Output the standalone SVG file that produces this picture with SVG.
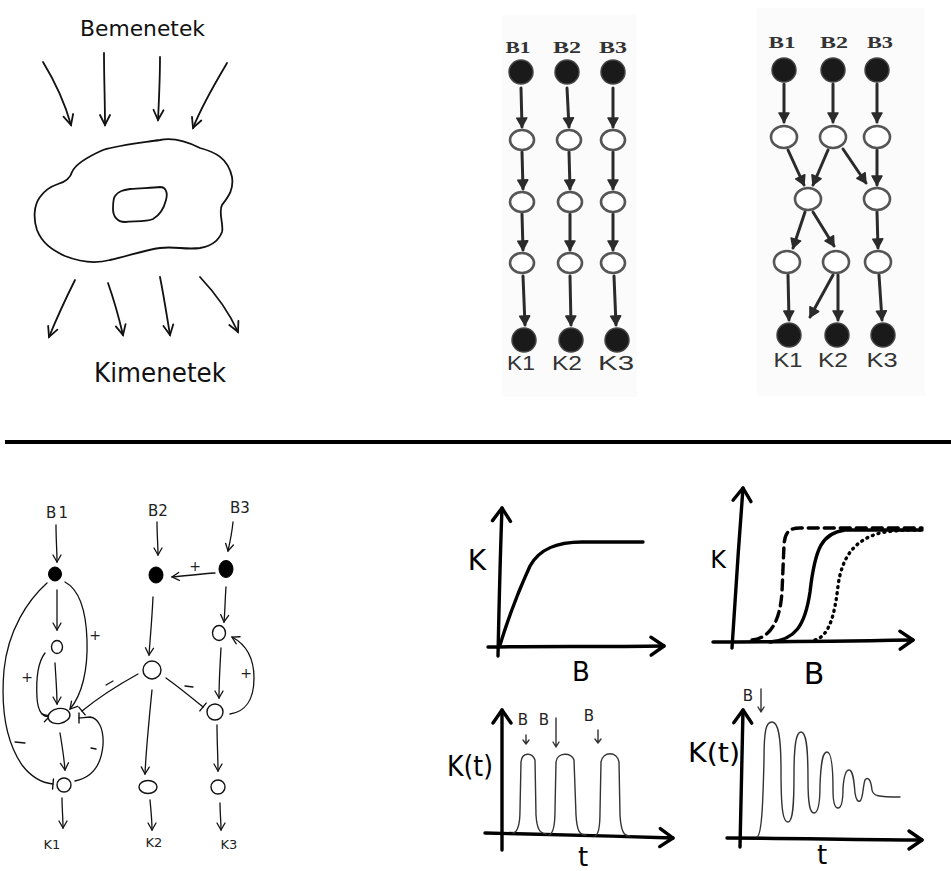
<svg xmlns="http://www.w3.org/2000/svg" width="951" height="871" viewBox="0 0 951 871">
  <defs>
    <style>
      .ink { fill: none; stroke: #111; stroke-linecap: round; stroke-linejoin: round; }
      .sketch { stroke-width: 1.8; }
      .thin { stroke-width: 1.3; }
      .grid-edge { fill: none; stroke: #2b2b2b; stroke-width: 3; stroke-linecap: round; }
      .grid-open { fill: #fff; stroke: #555; stroke-width: 2.6; }
      .grid-full { fill: #1a1a1a; stroke: #444; stroke-width: 1.5; }
      .axis { fill: none; stroke: #000; stroke-width: 3.4; stroke-linecap: round; stroke-linejoin: round; }
      .trace { fill: none; stroke: #333; stroke-width: 1.4; stroke-linecap: round; stroke-linejoin: round; }
      .net-open { fill: #fff; stroke: #111; stroke-width: 1.4; }
      .net-full { fill: #000; stroke: #000; stroke-width: 1; }
      .hand { font-family: "DejaVu Sans", "Liberation Sans", sans-serif; fill: #111; }
      .note { font-family: "DejaVu Sans", "Liberation Sans", sans-serif; fill: #222; font-weight: normal; }
      .gridlbl { font-family: "Liberation Serif", serif; font-weight: bold; fill: #333; }
      .gridk { font-family: "Liberation Sans", sans-serif; fill: #333; }
      .big { font-family: "DejaVu Sans", "Liberation Sans", sans-serif; fill: #000; }
    </style>
    <marker id="arrow-hand" markerUnits="userSpaceOnUse" markerWidth="20" markerHeight="20" orient="auto" overflow="visible">
      <path d="M-10,-5 L0,0 L-10,5" fill="none" stroke="#111" stroke-width="1.8" stroke-linecap="round"/>
    </marker>
    <marker id="arrow-small" markerUnits="userSpaceOnUse" markerWidth="20" markerHeight="20" orient="auto" overflow="visible">
      <path d="M-7,-4 L0,0 L-7,4" fill="none" stroke="#111" stroke-width="1.3" stroke-linecap="round"/>
    </marker>
    <marker id="tbar" markerUnits="userSpaceOnUse" markerWidth="20" markerHeight="20" orient="auto" overflow="visible">
      <path d="M0,-5 L0,5" fill="none" stroke="#111" stroke-width="1.4" stroke-linecap="round"/>
    </marker>
    <marker id="arrow-grid" markerUnits="userSpaceOnUse" markerWidth="20" markerHeight="20" orient="auto" overflow="visible">
      <path d="M-9,-5 L0,0 L-9,5 Z" fill="#2b2b2b" stroke="#2b2b2b" stroke-width="1.5" stroke-linejoin="round"/>
    </marker>
    <marker id="arrow-axis" markerUnits="userSpaceOnUse" markerWidth="30" markerHeight="30" orient="auto" overflow="visible">
      <path d="M-13,-9 L0,0 L-13,9" fill="none" stroke="#000" stroke-width="3.4" stroke-linecap="round" stroke-linejoin="round"/>
    </marker>
  </defs>

  <rect width="951" height="871" fill="#fff"/>

  <!-- ===== Top left: cell with inputs and outputs ===== -->
  <g id="cell-sketch">
    <text class="hand" x="80" y="36" font-size="22" textLength="125" lengthAdjust="spacingAndGlyphs">Bemenetek</text>
    <path class="ink sketch" d="M72,172 C75,165 85,158 103,150 C120,145 140,143 160,140 C175,137 190,143 200,148 C215,152 228,158 232,177 C234,190 228,197 222,205 C218,212 224,225 222,232 C219,240 212,246 200,248 C185,250 175,246 160,248 C145,250 128,256 110,260 C95,264 80,262 65,256 C52,250 42,243 37,230 C33,218 34,205 40,197 C45,190 52,186 58,184 C65,182 70,179 72,172 Z"/>
    <path class="ink sketch" d="M115,196 C118,191 124,190 130,189 C140,188 152,188 160,187 C166,187 168,193 166,200 C164,208 160,215 153,219 C146,222 135,221 125,222 C117,222 113,216 113,209 C113,203 113,199 115,196 Z"/>
    <text class="hand" x="94" y="382" font-size="26" textLength="132" lengthAdjust="spacingAndGlyphs">Kimenetek</text>
  </g>
  <g id="cell-arrows">
    <path class="ink sketch" d="M43,62 C54,80 64,100 71,125" marker-end="url(#arrow-hand)"/>
    <path class="ink sketch" d="M104,53 C104,80 105,100 105,125" marker-end="url(#arrow-hand)"/>
    <path class="ink sketch" d="M160,57 C160,80 159,100 158,120" marker-end="url(#arrow-hand)"/>
    <path class="ink sketch" d="M227,63 C214,85 202,105 193,128" marker-end="url(#arrow-hand)"/>
    <path class="ink sketch" d="M75,280 C66,298 58,315 49,337" marker-end="url(#arrow-hand)"/>
    <path class="ink sketch" d="M108,283 C114,300 119,318 123,335" marker-end="url(#arrow-hand)"/>
    <path class="ink sketch" d="M160,277 C164,297 167,317 170,335" marker-end="url(#arrow-hand)"/>
    <path class="ink sketch" d="M200,277 C215,293 228,310 238,332" marker-end="url(#arrow-hand)"/>
  </g>

  <!-- ===== Top middle: three independent chains ===== -->
  <rect x="502" y="15" width="135" height="382" fill="#fbfbfb"/>
  <g id="chains-edges">
    <line class="grid-edge" x1="521" y1="88" x2="522" y2="127" marker-end="url(#arrow-grid)"/>
    <line class="grid-edge" x1="522" y1="152" x2="523" y2="189" marker-end="url(#arrow-grid)"/>
    <line class="grid-edge" x1="522" y1="214" x2="523" y2="250" marker-end="url(#arrow-grid)"/>
    <line class="grid-edge" x1="523" y1="276" x2="525" y2="325" marker-end="url(#arrow-grid)"/>
    <line class="grid-edge" x1="567" y1="88" x2="569" y2="127" marker-end="url(#arrow-grid)"/>
    <line class="grid-edge" x1="569" y1="152" x2="570" y2="189" marker-end="url(#arrow-grid)"/>
    <line class="grid-edge" x1="570" y1="214" x2="570" y2="250" marker-end="url(#arrow-grid)"/>
    <line class="grid-edge" x1="570" y1="276" x2="571" y2="325" marker-end="url(#arrow-grid)"/>
    <line class="grid-edge" x1="613" y1="88" x2="613" y2="127" marker-end="url(#arrow-grid)"/>
    <line class="grid-edge" x1="613" y1="152" x2="613" y2="189" marker-end="url(#arrow-grid)"/>
    <line class="grid-edge" x1="613" y1="214" x2="613" y2="250" marker-end="url(#arrow-grid)"/>
    <line class="grid-edge" x1="614" y1="276" x2="616" y2="325" marker-end="url(#arrow-grid)"/>
  </g>
  <g id="chain-1">
    <text class="gridlbl" x="518" y="53" font-size="16" text-anchor="middle" textLength="25" lengthAdjust="spacingAndGlyphs">B1</text>
    <circle class="grid-full" cx="521" cy="72" r="12"/>
    <ellipse class="grid-open" cx="522" cy="140" rx="12" ry="10"/>
    <ellipse class="grid-open" cx="522" cy="202" rx="12" ry="10"/>
    <ellipse class="grid-open" cx="522" cy="263" rx="12" ry="10"/>
    <circle class="grid-full" cx="524" cy="340" r="12"/>
    <text class="gridk" x="521" y="370" font-size="20" text-anchor="middle" textLength="28" lengthAdjust="spacingAndGlyphs">K1</text>
  </g>
  <g id="chain-2">
    <text class="gridlbl" x="567" y="53" font-size="16" text-anchor="middle" textLength="28" lengthAdjust="spacingAndGlyphs">B2</text>
    <circle class="grid-full" cx="567" cy="72" r="12"/>
    <ellipse class="grid-open" cx="569" cy="140" rx="12" ry="10"/>
    <ellipse class="grid-open" cx="570" cy="202" rx="12" ry="10"/>
    <ellipse class="grid-open" cx="570" cy="263" rx="12" ry="10"/>
    <circle class="grid-full" cx="571" cy="340" r="12"/>
    <text class="gridk" x="567" y="370" font-size="20" text-anchor="middle" textLength="30" lengthAdjust="spacingAndGlyphs">K2</text>
  </g>
  <g id="chain-3">
    <text class="gridlbl" x="613" y="53" font-size="16" text-anchor="middle" textLength="28" lengthAdjust="spacingAndGlyphs">B3</text>
    <circle class="grid-full" cx="613" cy="72" r="12"/>
    <ellipse class="grid-open" cx="613" cy="140" rx="12" ry="10"/>
    <ellipse class="grid-open" cx="613" cy="202" rx="12" ry="10"/>
    <ellipse class="grid-open" cx="613" cy="263" rx="12" ry="10"/>
    <circle class="grid-full" cx="617" cy="340" r="12"/>
    <text class="gridk" x="616" y="370" font-size="20" text-anchor="middle" textLength="36" lengthAdjust="spacingAndGlyphs">K3</text>
  </g>

  <!-- ===== Top right: crossing chains ===== -->
  <rect x="757" y="8" width="168" height="388" fill="#fbfbfb"/>
  <g id="cross-edges">
    <line class="grid-edge" x1="784" y1="84" x2="784" y2="122" marker-end="url(#arrow-grid)"/>
    <line class="grid-edge" x1="833" y1="84" x2="833" y2="122" marker-end="url(#arrow-grid)"/>
    <line class="grid-edge" x1="877" y1="84" x2="877" y2="122" marker-end="url(#arrow-grid)"/>
    <line class="grid-edge" x1="788" y1="150" x2="804" y2="185" marker-end="url(#arrow-grid)"/>
    <line class="grid-edge" x1="828" y1="150" x2="813" y2="185" marker-end="url(#arrow-grid)"/>
    <line class="grid-edge" x1="843" y1="149" x2="866" y2="183" marker-end="url(#arrow-grid)"/>
    <line class="grid-edge" x1="877" y1="150" x2="877" y2="185" marker-end="url(#arrow-grid)"/>
    <line class="grid-edge" x1="805" y1="212" x2="793" y2="248" marker-end="url(#arrow-grid)"/>
    <line class="grid-edge" x1="813" y1="212" x2="834" y2="246" marker-end="url(#arrow-grid)"/>
    <line class="grid-edge" x1="877" y1="212" x2="878" y2="248" marker-end="url(#arrow-grid)"/>
    <line class="grid-edge" x1="788" y1="275" x2="789" y2="320" marker-end="url(#arrow-grid)"/>
    <line class="grid-edge" x1="833" y1="275" x2="810" y2="317" marker-end="url(#arrow-grid)"/>
    <line class="grid-edge" x1="838" y1="275" x2="838" y2="320" marker-end="url(#arrow-grid)"/>
    <line class="grid-edge" x1="879" y1="275" x2="882" y2="320" marker-end="url(#arrow-grid)"/>
  </g>
  <g id="cross-col-1">
    <text class="gridlbl" x="782" y="48" font-size="16" text-anchor="middle" textLength="27" lengthAdjust="spacingAndGlyphs">B1</text>
    <circle class="grid-full" cx="784" cy="70" r="12"/>
    <ellipse class="grid-open" cx="784" cy="137" rx="13" ry="11"/>
    <ellipse class="grid-open" cx="787" cy="262" rx="13" ry="11"/>
    <circle class="grid-full" cx="789" cy="335" r="12"/>
    <text class="gridk" x="788" y="367" font-size="20" text-anchor="middle" textLength="29" lengthAdjust="spacingAndGlyphs">K1</text>
  </g>
  <g id="cross-col-2">
    <text class="gridlbl" x="834" y="48" font-size="16" text-anchor="middle" textLength="28" lengthAdjust="spacingAndGlyphs">B2</text>
    <circle class="grid-full" cx="833" cy="70" r="12"/>
    <ellipse class="grid-open" cx="833" cy="137" rx="13" ry="11"/>
    <ellipse class="grid-open" cx="808" cy="199" rx="13" ry="11"/>
    <ellipse class="grid-open" cx="836" cy="262" rx="13" ry="11"/>
    <circle class="grid-full" cx="837" cy="335" r="12"/>
    <text class="gridk" x="833" y="367" font-size="20" text-anchor="middle" textLength="30" lengthAdjust="spacingAndGlyphs">K2</text>
  </g>
  <g id="cross-col-3">
    <text class="gridlbl" x="880" y="48" font-size="16" text-anchor="middle" textLength="26" lengthAdjust="spacingAndGlyphs">B3</text>
    <circle class="grid-full" cx="877" cy="70" r="12"/>
    <ellipse class="grid-open" cx="877" cy="137" rx="13" ry="11"/>
    <ellipse class="grid-open" cx="877" cy="199" rx="13" ry="11"/>
    <ellipse class="grid-open" cx="878" cy="262" rx="13" ry="11"/>
    <circle class="grid-full" cx="883" cy="335" r="12"/>
    <text class="gridk" x="882" y="367" font-size="20" text-anchor="middle" textLength="31" lengthAdjust="spacingAndGlyphs">K3</text>
  </g>

  <!-- Separator -->
  <line x1="5" y1="442" x2="951" y2="442" stroke="#000" stroke-width="4"/>

  <!-- ===== Bottom left: regulatory network ===== -->
  <g id="net-edges">
    <!-- inputs -->
    <path class="ink thin" d="M56,525 C56,540 57,550 57,562" marker-end="url(#arrow-small)"/>
    <path class="ink thin" d="M157,522 C157,535 158,545 158,555" marker-end="url(#arrow-small)"/>
    <path class="ink thin" d="M233,522 C232,533 230,542 228,551" marker-end="url(#arrow-small)"/>
    <!-- B3 node activates B2 node -->
    <path class="ink thin" d="M215,573 C200,574 185,576 172,577" marker-end="url(#arrow-small)"/>
    <!-- column 1 -->
    <path class="ink thin" d="M57,590 C57,605 57,618 57,630" marker-end="url(#arrow-small)"/>
    <path class="ink thin" d="M65,582 C80,590 86,610 87,640 C88,670 82,695 70,709" marker-end="url(#arrow-small)"/>
    <path class="ink thin" d="M55,663 C56,680 57,692 57,704" marker-end="url(#arrow-small)"/>
    <path class="ink thin" d="M45,653 C38,662 36,680 37,698 C38,712 43,718 50,716" marker-end="url(#arrow-small)"/>
    <path class="ink thin" d="M47,583 C28,600 8,630 4,670 C1,705 5,740 22,765 C32,778 42,783 53,784" marker-end="url(#tbar)"/>
    <path class="ink thin" d="M60,733 C62,745 64,757 65,770" marker-end="url(#arrow-small)"/>
    <path class="ink thin" d="M75,781 C90,778 101,768 103,745 C104,728 98,718 90,717 C86,717 82,718 79,718" marker-end="url(#tbar)"/>
    <!-- middle node represses both mid-row nodes -->
    <path class="ink thin" d="M138,674 C118,685 98,698 82,711" marker-end="url(#tbar)"/>
    <path class="ink thin" d="M166,678 C180,688 192,698 203,707" marker-end="url(#tbar)"/>
    <!-- column 2 -->
    <path class="ink thin" d="M153,597 C152,620 150,640 149,655" marker-end="url(#arrow-small)"/>
    <path class="ink thin" d="M152,690 C149,720 146,750 145,774" marker-end="url(#arrow-small)"/>
    <!-- column 3 -->
    <path class="ink thin" d="M226,587 C225,600 225,612 224,622" marker-end="url(#arrow-small)"/>
    <path class="ink thin" d="M221,648 C220,665 219,682 219,698" marker-end="url(#arrow-small)"/>
    <path class="ink thin" d="M230,714 C245,712 254,700 254,678 C254,660 247,645 232,637" marker-end="url(#arrow-small)"/>
    <path class="ink thin" d="M217,725 C217,742 218,757 218,771" marker-end="url(#arrow-small)"/>
    <!-- outputs -->
    <path class="ink thin" d="M62,798 C62,808 63,818 63,828" marker-end="url(#arrow-small)"/>
    <path class="ink thin" d="M150,800 C151,810 152,820 152,830" marker-end="url(#arrow-small)"/>
    <path class="ink thin" d="M220,803 C220,812 221,822 221,830" marker-end="url(#arrow-small)"/>
    <!-- signs -->
    <g class="note" font-size="14" text-anchor="middle">
      <text x="195" y="571">+</text>
      <text x="95" y="640">+</text>
      <text x="27" y="682">+</text>
      <text x="246" y="678">+</text>
    </g>
    <g class="ink thin">
      <path d="M15,742 L25,743"/>
      <path d="M91,748 L96,749"/>
      <path d="M106,685 L113,681"/>
      <path d="M185,686 L193,687"/>
    </g>
  </g>
  <g id="net-b1">
    <text class="note" x="57" y="518" font-size="15" text-anchor="middle" textLength="22" lengthAdjust="spacing">B 1</text>
    <ellipse class="net-full" cx="55" cy="574" rx="6.5" ry="7"/>
    <ellipse class="net-open" cx="57" cy="647" rx="5.5" ry="6.5"/>
    <ellipse class="net-open" cx="59" cy="716" rx="11" ry="7.5" transform="rotate(-10 59 716)"/>
    <circle class="net-open" cx="64" cy="785" r="7"/>
    <text class="note" x="52" y="849" font-size="13" text-anchor="middle">K1</text>
  </g>
  <g id="net-b2">
    <text class="note" x="158" y="516" font-size="15" text-anchor="middle">B2</text>
    <ellipse class="net-full" cx="156" cy="575" rx="7" ry="8"/>
    <circle class="net-open" cx="152" cy="670" r="9"/>
    <ellipse class="net-open" cx="148" cy="787" rx="9" ry="6.5"/>
    <text class="note" x="154" y="847" font-size="13" text-anchor="middle">K2</text>
  </g>
  <g id="net-b3">
    <text class="note" x="240" y="513" font-size="15" text-anchor="middle">B3</text>
    <ellipse class="net-full" cx="226" cy="569" rx="7" ry="8.5"/>
    <ellipse class="net-open" cx="219" cy="633" rx="6.5" ry="7.5"/>
    <circle class="net-open" cx="215" cy="712" r="8"/>
    <circle class="net-open" cx="218" cy="787" r="7"/>
    <text class="note" x="229" y="849" font-size="13" text-anchor="middle">K3</text>
  </g>

  <!-- ===== Bottom right: response curves ===== -->
  <g id="plot-saturation">
    <path class="axis" d="M498,656 C499,610 500,560 502,508" marker-end="url(#arrow-axis)"/>
    <path class="axis" d="M488,647 C540,646 600,647 664,646" marker-end="url(#arrow-axis)"/>
    <path class="axis" d="M500,645 C507,622 518,592 530,566 C540,548 558,542 582,542 L643,542"/>
    <text class="big" x="477" y="570" font-size="28" text-anchor="middle">K</text>
    <text class="big" x="581" y="681" font-size="26" text-anchor="middle">B</text>
  </g>
  <g id="plot-switch">
    <path class="axis" d="M732,648 C735,600 739,540 743,488" marker-end="url(#arrow-axis)"/>
    <path class="axis" d="M713,642 C780,642 850,641 913,640" marker-end="url(#arrow-axis)"/>
    <path class="axis" d="M752,640 C770,638 780,622 782,592 L784,545 C785,531 790,528 800,528 L922,528" stroke-dasharray="10 6" stroke-width="3"/>
    <path class="axis" d="M770,642 C795,640 805,626 810,592 C815,548 822,533 845,530 L922,530"/>
    <path class="axis" d="M815,640 C830,636 835,612 838,586 C842,556 855,540 880,533 C895,530 910,530 920,530" stroke-dasharray="1 5" stroke-width="3"/>
    <text class="big" x="718" y="568" font-size="24" text-anchor="middle">K</text>
    <text class="big" x="814" y="684" font-size="30" text-anchor="middle">B</text>
  </g>
  <g id="plot-pulses">
    <path class="axis" d="M502,850 C502,800 502,760 502,710" marker-end="url(#arrow-axis)"/>
    <path class="axis" d="M485,833 C540,834 610,836 673,838" marker-end="url(#arrow-axis)"/>
    <path class="trace" d="M513,833 C518,832 520,824 520,810 L521,762 C522,752 532,752 535,760 L536,815 C537,830 540,833 546,834"/>
    <path class="trace" d="M549,835 C553,834 555,826 555,810 L556,762 C557,752 572,752 574,760 L576,815 C577,832 580,835 586,835"/>
    <path class="trace" d="M595,836 C598,835 600,828 600,812 L601,762 C603,751 617,751 619,762 L620,815 C621,832 624,836 630,836"/>
    <path class="trace" d="M526,735 L526,744 M523,740 L526,744 L529,740"/>
    <path class="trace" d="M556,718 L556,747 M553,742 L556,747 L559,742"/>
    <path class="trace" d="M598,730 L598,743 M595,739 L598,743 L601,739"/>
    <g class="note" font-size="15" fill="#333" text-anchor="middle">
      <text x="523" y="725">B</text>
      <text x="544" y="725">B</text>
      <text x="589" y="721">B</text>
    </g>
    <text class="big" x="470" y="776" font-size="28" text-anchor="middle" textLength="46" lengthAdjust="spacingAndGlyphs">K(t)</text>
    <text class="big" x="583" y="866" font-size="26" text-anchor="middle">t</text>
  </g>
  <g id="plot-damped">
    <path class="axis" d="M740,847 C741,800 742,760 743,710" marker-end="url(#arrow-axis)"/>
    <path class="axis" d="M727,838 C790,838 860,840 922,840" marker-end="url(#arrow-axis)"/>
    <path class="trace" d="M757,837 C762,835 763,800 764,760 C764,730 766,722 772,722 C778,722 781,735 781,770 C781,810 783,822 788,822 C793,822 794,805 794,775 C794,745 796,732 801,732 C806,732 808,745 808,780 C808,805 810,813 814,813 C819,813 820,800 820,785 C821,760 823,752 827,752 C831,752 833,765 833,790 C833,803 835,808 838,808 C842,808 843,798 843,788 C844,775 846,770 849,770 C853,770 854,780 855,793 C856,800 858,802 860,801 C863,800 863,785 865,780 C868,776 871,780 872,790 C873,796 878,797 900,797"/>
    <path class="trace" d="M761,689 L761,712 M758,707 L761,712 L764,707"/>
    <text class="note" x="748" y="701" font-size="15" fill="#333" text-anchor="middle">B</text>
    <text class="big" x="714" y="762" font-size="26" text-anchor="middle" textLength="52" lengthAdjust="spacingAndGlyphs">K(t)</text>
    <text class="big" x="822" y="864" font-size="26" text-anchor="middle">t</text>
  </g>
</svg>
